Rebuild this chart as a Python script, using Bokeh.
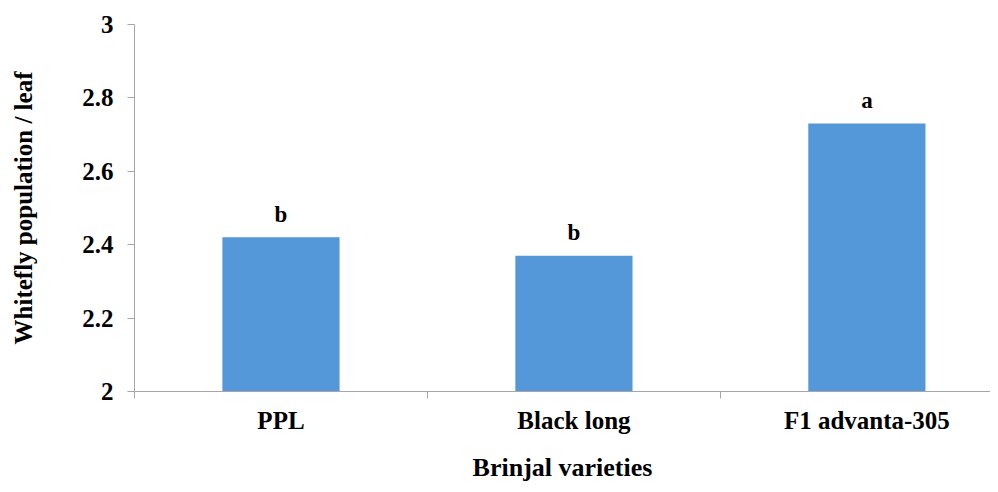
from bokeh.plotting import figure
from bokeh.models import ColumnDataSource, FixedTicker, Range1d
from bokeh.core.properties import value
from bokeh.embed import file_html
from bokeh.resources import INLINE

# ---- data ----
varieties = ["PPL", "Black long", "F1 advanta-305"]
whitefly = [2.42, 2.37, 2.73]
letters = ["b", "b", "a"]
y_ticks = [2, 2.2, 2.4, 2.6, 2.8, 3]
y_tick_labels = ["2", "2.2", "2.4", "2.6", "2.8", "3"]

FONT = "Liberation Serif"
AXIS_COLOR = "#a6a6a6"

x_center = [i + 0.5 for i in range(len(varieties))]
x_bounds = list(range(len(varieties) + 1))
source = ColumnDataSource(dict(x=x_center, y=whitefly, name=varieties, letter=letters))

p = figure(width=990, height=484, output_backend="svg", toolbar_location=None,
           x_range=Range1d(0, 2.922), y_range=Range1d(2, 3),
           min_border_left=134, min_border_top=24, min_border_right=0,
           min_border_bottom=93)
p.outline_line_color = None
p.xgrid.visible = False
p.ygrid.visible = False

p.vbar(x="x", top="y", bottom=y_ticks[0], width=0.4, source=source,
       fill_color="#5498da", line_color=None)
p.text(x="x", y="y", text="letter", source=source, text_align="center",
       text_baseline="alphabetic", y_offset=-23,
       text_font=value(FONT), text_font_style="bold", text_font_size="23px",
       text_color="black")

# y axis
ya = p.yaxis[0]
ya.ticker = FixedTicker(ticks=y_ticks, minor_ticks=[])
ya.major_label_overrides = {t: l for t, l in zip(y_ticks, y_tick_labels)}
ya.axis_line_color = AXIS_COLOR
ya.major_tick_line_color = AXIS_COLOR
ya.major_tick_out = 7
ya.major_tick_in = 0
ya.minor_tick_line_color = None
ya.major_label_standoff = 14
ya.major_label_text_font = FONT
ya.major_label_text_font_style = "bold"
ya.major_label_text_font_size = "25px"
ya.major_label_text_color = "black"
ya.axis_label = "Whitefly population / leaf"
ya.axis_label_text_font = FONT
ya.axis_label_text_font_style = "bold"
ya.axis_label_text_font_size = "25px"
ya.axis_label_text_color = "black"
ya.axis_label_standoff = 42

# x axis
xa = p.xaxis[0]
xa.ticker = FixedTicker(ticks=x_center, minor_ticks=x_bounds)
xa.major_label_overrides = {c: n for c, n in zip(x_center, varieties)}
xa.axis_line_color = AXIS_COLOR
xa.major_tick_line_color = None
xa.major_tick_out = 0
xa.major_tick_in = 0
xa.minor_tick_line_color = AXIS_COLOR
xa.minor_tick_out = 7
xa.minor_tick_in = 0
xa.major_label_standoff = 8
xa.major_label_text_font = FONT
xa.major_label_text_font_style = "bold"
xa.major_label_text_font_size = "25px"
xa.major_label_text_color = "black"
xa.axis_label = "Brinjal varieties"
xa.axis_label_text_font = FONT
xa.axis_label_text_font_style = "bold"
xa.axis_label_text_font_size = "26px"
xa.axis_label_text_color = "black"
xa.axis_label_standoff = 16

open("out.html", "w").write(file_html(p, INLINE))
